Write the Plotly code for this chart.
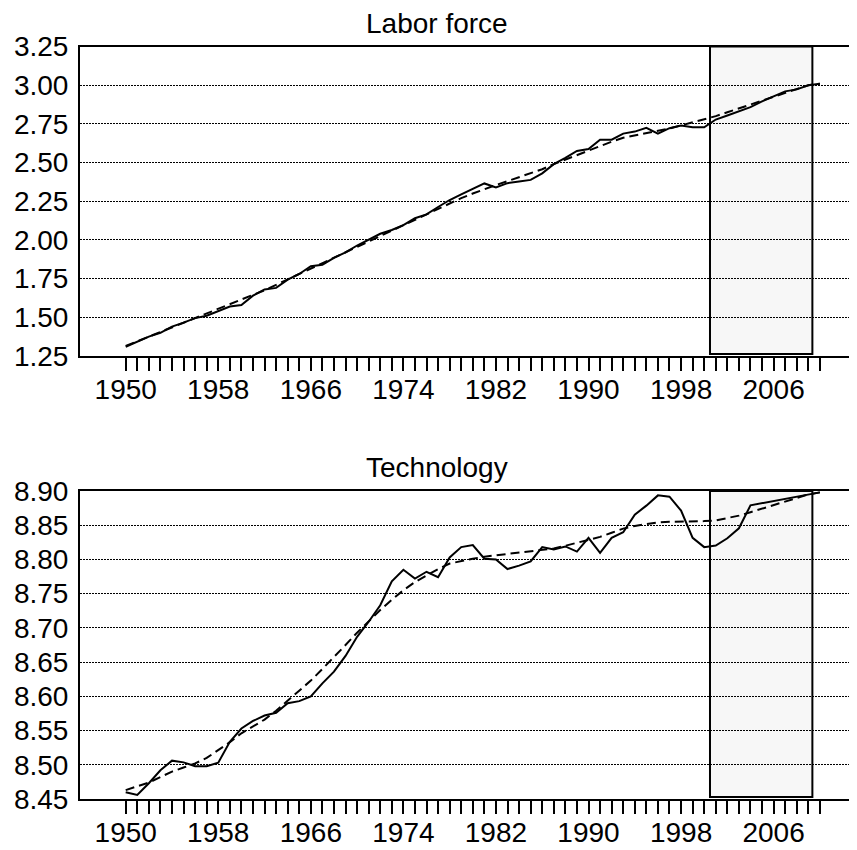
import plotly.graph_objects as go

years = list(range(1950, 2011))

labor_actual = [1.31, 1.345, 1.375, 1.40, 1.44, 1.466, 1.495, 1.51, 1.538, 1.57,
                1.58, 1.64, 1.68, 1.69, 1.743, 1.78, 1.83, 1.84, 1.884, 1.92,
                1.964, 2.003, 2.04, 2.064, 2.096, 2.14, 2.165, 2.213, 2.258, 2.295,
                2.328, 2.365, 2.339, 2.367, 2.378, 2.388, 2.43, 2.49, 2.531, 2.575,
                2.588, 2.648, 2.648, 2.687, 2.70, 2.724, 2.687, 2.722, 2.739, 2.728,
                2.728, 2.778, 2.804, 2.83, 2.858, 2.895, 2.928, 2.96, 2.973, 3.00,
                3.01]

labor_trend = [1.315, 1.345, 1.375, 1.405, 1.435, 1.465, 1.495, 1.52, 1.55, 1.58,
               1.61, 1.645, 1.675, 1.71, 1.745, 1.78, 1.815, 1.85, 1.885, 1.92,
               1.96, 1.995, 2.03, 2.065, 2.10, 2.135, 2.17, 2.205, 2.24, 2.27,
               2.30, 2.33, 2.355, 2.38, 2.405, 2.43, 2.457, 2.49, 2.52, 2.55,
               2.58, 2.61, 2.635, 2.66, 2.675, 2.69, 2.705, 2.72, 2.74, 2.76,
               2.78, 2.80, 2.825, 2.85, 2.875, 2.90, 2.925, 2.95, 2.975, 3.00,
               3.01]

tech_actual = [8.46, 8.456, 8.473, 8.492, 8.506, 8.5035, 8.498, 8.498, 8.503, 8.5335,
               8.553, 8.564, 8.572, 8.576, 8.590, 8.593, 8.600, 8.619, 8.636, 8.659,
               8.687, 8.709, 8.733, 8.768, 8.785, 8.772, 8.782, 8.774, 8.803, 8.818,
               8.821, 8.801, 8.800, 8.786, 8.791, 8.797, 8.818, 8.8145, 8.819, 8.8115,
               8.8315, 8.8096, 8.8315, 8.8397, 8.8655, 8.8786, 8.8936, 8.8917, 8.8713, 8.8315,
               8.818, 8.8203, 8.831, 8.8455, 8.879, 8.882, 8.885, 8.888, 8.891, 8.895,
               8.898]

tech_trend = [8.463, 8.468, 8.474, 8.482, 8.490, 8.496, 8.502, 8.510, 8.521, 8.533,
              8.546, 8.556, 8.566, 8.579, 8.594, 8.608, 8.623, 8.640, 8.657, 8.675,
              8.693, 8.710, 8.726, 8.741, 8.755, 8.767, 8.777, 8.786, 8.794, 8.798,
              8.801, 8.804, 8.806, 8.807, 8.809, 8.811, 8.813, 8.816, 8.820, 8.824,
              8.828, 8.833, 8.839, 8.845, 8.849, 8.852, 8.854, 8.855, 8.855, 8.855,
              8.856, 8.857, 8.860, 8.864, 8.869, 8.874, 8.879, 8.884, 8.890, 8.895,
              8.898]

titles = ["Labor force", "Technology"]
label_years = [1950, 1958, 1966, 1974, 1982, 1990, 1998, 2006]
shade_start, shade_end = 2000.5, 2009.35

# page is offset by the 8px body margin
OFF = 8
W, H = 857 - OFF, 850 - OFF
ML = 80 - OFF
PW = W - ML


def fy(page_y):
    return 1 - (page_y - OFF) / H


top_dom = [fy(356), fy(46.5)]
bot_dom = [fy(799), fy(491)]

fig = go.Figure()
font = "Liberation Sans, Arial, sans-serif"
FS = 28

fig.add_trace(go.Scatter(x=years, y=labor_actual, mode="lines",
                         line=dict(color="black", width=2), xaxis="x", yaxis="y"))
fig.add_trace(go.Scatter(x=years, y=labor_trend, mode="lines",
                         line=dict(color="black", width=2, dash="9px,5px"), xaxis="x", yaxis="y"))
fig.add_trace(go.Scatter(x=years, y=tech_actual, mode="lines",
                         line=dict(color="black", width=2), xaxis="x2", yaxis="y2"))
fig.add_trace(go.Scatter(x=years, y=tech_trend, mode="lines",
                         line=dict(color="black", width=2, dash="9px,5px"), xaxis="x2", yaxis="y2"))

ticktext = [str(y) if y in label_years else "" for y in years]
xrange_ = [1946.05, 1946.05 + PW / 11.57]

xcommon = dict(range=xrange_, tickvals=years, ticktext=ticktext, ticks="outside",
               ticklen=13, tickwidth=2, tickcolor="black", showgrid=False,
               showline=True, linecolor="black", linewidth=2, mirror=True,
               zeroline=False, automargin=False, ticklabelstandoff=-6,
               tickfont=dict(family=font, size=FS, color="black"))
ycommon = dict(showline=True, linecolor="black", linewidth=2, mirror=False,
               ticks="", showgrid=True, gridcolor="black", gridwidth=1,
               griddash="2px,1px", zeroline=False, tickformat=".2f", automargin=False,
               ticklabelstandoff=4,
               tickfont=dict(family=font, size=FS, color="black"))

fig.update_layout(
    width=W, height=H,
    margin=dict(l=ML, r=0, t=0, b=0, autoexpand=False),
    paper_bgcolor="white", plot_bgcolor="white",
    showlegend=False,
    xaxis=dict(domain=[0, 1], anchor="y", **xcommon),
    yaxis=dict(domain=top_dom, anchor="x", range=[1.25, 3.25], dtick=0.25, tick0=1.25, **ycommon),
    xaxis2=dict(domain=[0, 1], anchor="y2", **xcommon),
    yaxis2=dict(domain=bot_dom, anchor="x2", range=[8.45, 8.90], dtick=0.05, tick0=8.45, **ycommon),
)

for xr, yr, y0, y1 in [("x", "y", 1.25 + 2 / 154, 3.25), ("x2", "y2", 8.45 + 2 / 686, 8.90)]:
    fig.add_shape(type="rect", xref=xr, yref=yr, x0=shade_start, x1=shade_end, y0=y0, y1=y1,
                  fillcolor="#f7f7f7", line=dict(color="black", width=2), layer="below")

for title, ypx in zip(titles, [24, 467]):
    fig.add_annotation(text=title, xref="paper", yref="paper", x=(437 - 80) / PW,
                       y=fy(ypx), xanchor="center", yanchor="middle", showarrow=False,
                       font=dict(family=font, size=FS, color="black"))

fig.write_html("out.html")
